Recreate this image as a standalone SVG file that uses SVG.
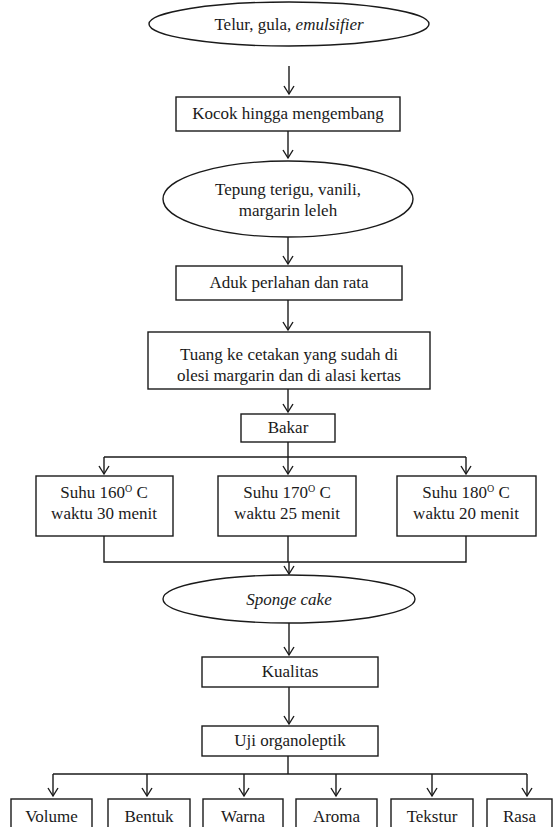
<svg xmlns="http://www.w3.org/2000/svg" width="560" height="827" viewBox="0 0 560 827">
<style>
.n{fill:#fff;stroke:#1a1a1a;stroke-width:1.4}
.t{font-family:"Liberation Serif","Times New Roman",serif;font-size:17px;fill:#1a1a1a;text-anchor:middle}
.c{fill:none;stroke:#1a1a1a;stroke-width:1.4}
.a{marker-end:url(#arr)}
</style>
<defs>
<marker id="arr" viewBox="-1 -6 11 12" refX="8" refY="0" markerWidth="11" markerHeight="12" markerUnits="userSpaceOnUse" orient="auto">
<path d="M0,-5 L8,0 L0,5" fill="none" stroke="#1a1a1a" stroke-width="1.4"/>
</marker>
</defs>
<rect width="560" height="827" fill="#fff"/>
<g id="connectors">
<line class="c a" x1="289" y1="66" x2="289" y2="94"/>
<line class="c a" x1="288" y1="131" x2="288" y2="158"/>
<line class="c a" x1="288" y1="237" x2="288" y2="264"/>
<line class="c a" x1="288" y1="300" x2="288" y2="330"/>
<line class="c a" x1="288" y1="389" x2="288" y2="412"/>
<line class="c" x1="288" y1="442" x2="288" y2="457"/>
<line class="c" x1="104" y1="457" x2="466" y2="457"/>
<line class="c a" x1="104" y1="457" x2="104" y2="474"/>
<line class="c a" x1="288" y1="457" x2="288" y2="474"/>
<line class="c a" x1="466" y1="457" x2="466" y2="474"/>
<polyline class="c" points="104,536 104,562 466,562 466,536"/>
<line class="c" x1="288" y1="536" x2="288" y2="562"/>
<line class="c a" x1="289" y1="562" x2="289" y2="574"/>
<line class="c a" x1="289" y1="623" x2="289" y2="655"/>
<line class="c a" x1="289" y1="687" x2="289" y2="724"/>
<line class="c" x1="288" y1="756" x2="288" y2="774"/>
<line class="c" x1="53" y1="774" x2="527" y2="774"/>
<line class="c a" x1="53" y1="774" x2="53" y2="796"/>
<line class="c a" x1="147" y1="774" x2="147" y2="796"/>
<line class="c a" x1="244" y1="774" x2="244" y2="796"/>
<line class="c a" x1="336" y1="774" x2="336" y2="796"/>
<line class="c a" x1="432" y1="774" x2="432" y2="796"/>
<line class="c a" x1="527" y1="774" x2="527" y2="796"/>
</g>
<g id="n1"><ellipse class="n" cx="289" cy="24" rx="140" ry="22"/><text class="t" x="289" y="30">Telur, gula, <tspan font-style="italic">emulsifier</tspan></text></g>
<g id="n2"><rect class="n" x="176" y="97" width="224" height="34"/><text class="t" x="288" y="119">Kocok hingga mengembang</text></g>
<g id="n3"><ellipse class="n" cx="288" cy="199" rx="125" ry="38"/><text class="t" x="288" y="195">Tepung terigu, vanili,</text><text class="t" x="288" y="216">margarin leleh</text></g>
<g id="n4"><rect class="n" x="176" y="266" width="226" height="34"/><text class="t" x="289" y="288">Aduk perlahan dan rata</text></g>
<g id="n5"><rect class="n" x="148" y="332" width="282" height="57"/><text class="t" x="289" y="360">Tuang ke cetakan yang sudah di</text><text class="t" x="289" y="381">olesi margarin dan di alasi kertas</text></g>
<g id="n6"><rect class="n" x="241" y="414" width="94" height="28"/><text class="t" x="288" y="433">Bakar</text></g>
<g id="n7"><rect class="n" x="36" y="476" width="137" height="60"/><text class="t" x="104" y="498">Suhu 160<tspan font-size="10" dy="-6">O</tspan><tspan dy="6"> C</tspan></text><text class="t" x="104" y="519">waktu 30 menit</text></g>
<g id="n8"><rect class="n" x="218" y="476" width="138" height="60"/><text class="t" x="287" y="498">Suhu 170<tspan font-size="10" dy="-6">O</tspan><tspan dy="6"> C</tspan></text><text class="t" x="287" y="519">waktu 25 menit</text></g>
<g id="n9"><rect class="n" x="397" y="476" width="139" height="60"/><text class="t" x="466" y="498">Suhu 180<tspan font-size="10" dy="-6">O</tspan><tspan dy="6"> C</tspan></text><text class="t" x="466" y="519">waktu 20 menit</text></g>
<g id="n10"><ellipse class="n" cx="289" cy="599" rx="126" ry="24"/><text class="t" x="289" y="605" font-style="italic">Sponge cake</text></g>
<g id="n11"><rect class="n" x="202" y="657" width="176" height="30"/><text class="t" x="290" y="677">Kualitas</text></g>
<g id="n12"><rect class="n" x="202" y="726" width="176" height="30"/><text class="t" x="290" y="746">Uji organoleptik</text></g>
<g id="n13"><rect class="n" x="11" y="799" width="81" height="40"/><text class="t" x="51.5" y="822">Volume</text></g>
<g id="n14"><rect class="n" x="108" y="799" width="82" height="40"/><text class="t" x="149" y="822">Bentuk</text></g>
<g id="n15"><rect class="n" x="203" y="799" width="80" height="40"/><text class="t" x="243" y="822">Warna</text></g>
<g id="n16"><rect class="n" x="296" y="799" width="81" height="40"/><text class="t" x="336.5" y="822">Aroma</text></g>
<g id="n17"><rect class="n" x="391" y="799" width="82" height="40"/><text class="t" x="432" y="822">Tekstur</text></g>
<g id="n18"><rect class="n" x="487" y="799" width="65" height="40"/><text class="t" x="519.5" y="822">Rasa</text></g>
</svg>
